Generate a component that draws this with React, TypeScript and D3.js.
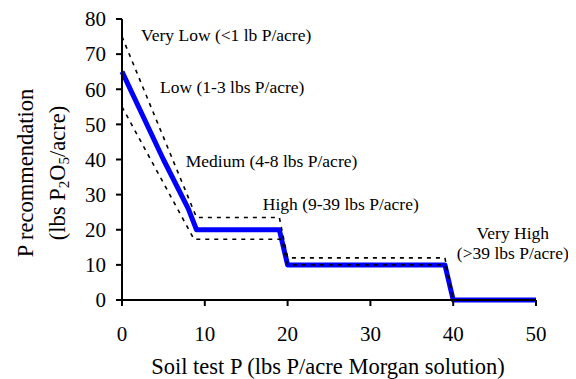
import * as d3 from 'd3';

// soil test P (x) and P recommendation (y)
const recX = [0, 5, 8, 9, 19, 20, 39, 40, 50];
const recY = [65, 40, 26, 20, 20, 10, 10, 0, 0];
const upperX = [0, 9, 19, 20, 39, 40, 50];
const upperY = [75, 23.5, 23.5, 12, 12, 0, 0];
const lowerX = [0, 8.7, 19.3, 20, 39, 40, 50];
const lowerY = [55, 17.3, 17.3, 10, 10, 0, 0];

const xTicks = [0, 10, 20, 30, 40, 50];
const yTicks = [0, 10, 20, 30, 40, 50, 60, 70, 80];

const classLabels = [
  { lines: ['Very Low (<1 lb P/acre)'], x: 2.3, y: 73.6, anchor: 'start' },
  { lines: ['Low (1-3 lbs P/acre)'], x: 4.6, y: 59, anchor: 'start' },
  { lines: ['Medium (4-8 lbs P/acre)'], x: 7.7, y: 38, anchor: 'start' },
  { lines: ['High (9-39 lbs P/acre)'], x: 17, y: 25.6, anchor: 'start' },
  { lines: ['Very High', '(>39 lbs P/acre)'], x: 47.2, y: 17.5, anchor: 'middle' },
];

const FONT = "'Liberation Serif', serif";

export default function App() {
  const width = 576;
  const height = 379;

  const x = d3.scaleLinear().domain([0, 50]).range([122, 536]);
  const y = d3.scaleLinear().domain([0, 80]).range([300, 19]);

  const toPts = (xs: number[], ys: number[]) => xs.map((v, i) => [v, ys[i]] as [number, number]);
  const line = d3.line<[number, number]>()
    .x(d => x(d[0]))
    .y(d => y(d[1]));

  return (
    <svg
      width={width}
      height={height}
      fontFamily={FONT}
      style={{ display: 'block', fontFamily: FONT, margin: '-8px 0 0 -8px' }}
    >
      <rect width={width} height={height} fill="#fff" />

      {/* recommendation line */}
      <path d={line(toPts(recX, recY)) || ''} fill="none" stroke="#0000ff" strokeWidth={5} strokeLinejoin="round" />

      {/* range lines */}
      {[toPts(upperX, upperY), toPts(lowerX, lowerY)].map((pts, i) => (
        <path key={i} d={line(pts) || ''} fill="none" stroke="#000" strokeWidth={1.6} strokeDasharray="4,5" />
      ))}

      {/* axes */}
      <line x1={x(0)} x2={x(50)} y1={y(0)} y2={y(0)} stroke="#000" strokeWidth={2} />
      <line x1={x(0)} x2={x(0)} y1={y(0) + 1} y2={y(80)} stroke="#000" strokeWidth={2} />
      {xTicks.map(t => (
        <g key={'x' + t}>
          <line x1={x(t)} x2={x(t)} y1={y(0)} y2={y(0) + 6} stroke="#000" strokeWidth={2} />
          <text x={x(t)} y={341} textAnchor="middle" fontFamily={FONT} fontSize={21}>{t}</text>
        </g>
      ))}
      {yTicks.map(t => (
        <g key={'y' + t}>
          <line x1={x(0) - 6} x2={x(0)} y1={y(t)} y2={y(t)} stroke="#000" strokeWidth={2} />
          <text x={106} y={y(t)} dy="0.35em" textAnchor="end" fontFamily={FONT} fontSize={21}>{t}</text>
        </g>
      ))}

      {/* class labels */}
      {classLabels.map((lab, i) => (
        <text key={i} x={x(lab.x)} y={y(lab.y)} textAnchor={lab.anchor} fontFamily={FONT} fontSize={17.5}>
          {lab.lines.map((s, j) => (
            <tspan key={j} x={x(lab.x)} dy={j === 0 ? 0 : 20}>{s}</tspan>
          ))}
        </text>
      ))}

      {/* axis titles */}
      <text x={328} y={374} textAnchor="middle" fontFamily={FONT} fontSize={22.5}>
        Soil test P (lbs P/acre Morgan solution)
      </text>
      <g transform="translate(0,173) rotate(-90)">
        <text x={0} y={33} textAnchor="middle" fontFamily={FONT} fontSize={22.5}>P recommendation</text>
        <text x={0} y={65} textAnchor="middle" fontFamily={FONT} fontSize={22.5}>
          <tspan>(lbs P</tspan>
          <tspan dy={4} fontSize={15}>2</tspan>
          <tspan dy={-4}>O</tspan>
          <tspan dy={4} fontSize={15}>5</tspan>
          <tspan dy={-4}>/acre)</tspan>
        </text>
      </g>
    </svg>
  );
}
